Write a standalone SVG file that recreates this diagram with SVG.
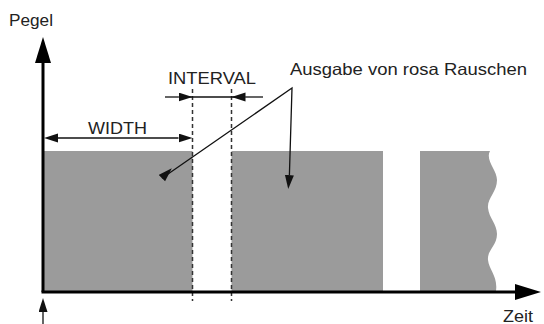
<svg xmlns="http://www.w3.org/2000/svg" width="544" height="324" viewBox="0 0 544 324">
<style>
.lbl{font-family:"Liberation Sans",Arial,sans-serif;font-size:16.5px;fill:#222}
.bar{fill:#9b9b9b}
.dash{stroke:#333;stroke-width:1.5;stroke-dasharray:4 3;fill:none}
.axis{stroke:#000;stroke-width:3;fill:none}
.thin{stroke:#111;stroke-width:1.3;fill:none}
</style>
<defs>
<marker id="ah" markerUnits="userSpaceOnUse" markerWidth="27" markerHeight="16" refX="0" refY="8" orient="auto"><path d="M0,0 L26,8 L0,16 Z" fill="#000"/></marker>
<marker id="th" markerUnits="userSpaceOnUse" markerWidth="15" markerHeight="10" refX="0" refY="4.5" orient="auto-start-reverse"><path d="M0,0 L14,4.5 L0,9 Z" fill="#111"/></marker>
</defs>
<g id="bars">
<rect id="bar1" class="bar" x="44" y="151" width="148.5" height="140"/>
<rect id="bar2" class="bar" x="231.5" y="151" width="151.5" height="140"/>
<path id="bar3" class="bar" d="M420,151 H490 C485,160 497,170 497,180 C497,192 487,198 488,208 C489,218 497,224 497,234 C497,246 487,250 488,260 C489,270 498,276 496,291 H420 Z"/>
</g>
<g id="guides">
<line class="dash" x1="192.5" y1="89" x2="192.5" y2="301"/>
<line class="dash" x1="231.5" y1="89" x2="231.5" y2="301"/>
</g>
<g id="axes">
<line class="axis" x1="43" y1="292" x2="43" y2="63" marker-end="url(#ah)"/>
<line class="axis" x1="41.5" y1="292" x2="515" y2="292" marker-end="url(#ah)"/>
</g>
<g id="connectors">
<line class="thin" x1="58" y1="138" x2="178.5" y2="138" marker-start="url(#th)" marker-end="url(#th)"/>
<line class="thin" x1="165" y1="97" x2="178.5" y2="97" marker-end="url(#th)"/>
<line class="thin" x1="178.5" y1="97" x2="245.5" y2="97"/>
<line class="thin" x1="263" y1="97" x2="245.5" y2="97" marker-end="url(#th)"/>
<polyline class="thin" points="161.9,178.2 292,88 289.4,175"/>
<line class="thin" x1="161.9" y1="178.2" x2="161.91" y2="178.19" marker-end="url(#th)"/>
<line class="thin" x1="289.4" y1="175" x2="289.39" y2="175.12" marker-end="url(#th)"/>
<line class="thin" x1="43" y1="324" x2="43" y2="312" marker-end="url(#th)"/>
</g>
<g id="labels">
<text class="lbl" x="9" y="26" textLength="44" lengthAdjust="spacingAndGlyphs">Pegel</text>
<text class="lbl" x="168" y="84" textLength="88" lengthAdjust="spacingAndGlyphs">INTERVAL</text>
<text class="lbl" x="88" y="134" textLength="59" lengthAdjust="spacingAndGlyphs">WIDTH</text>
<text class="lbl" x="290" y="75" textLength="237" lengthAdjust="spacingAndGlyphs">Ausgabe von rosa Rauschen</text>
<text class="lbl" x="503" y="322" textLength="30" lengthAdjust="spacingAndGlyphs">Zeit</text>
</g>
</svg>
